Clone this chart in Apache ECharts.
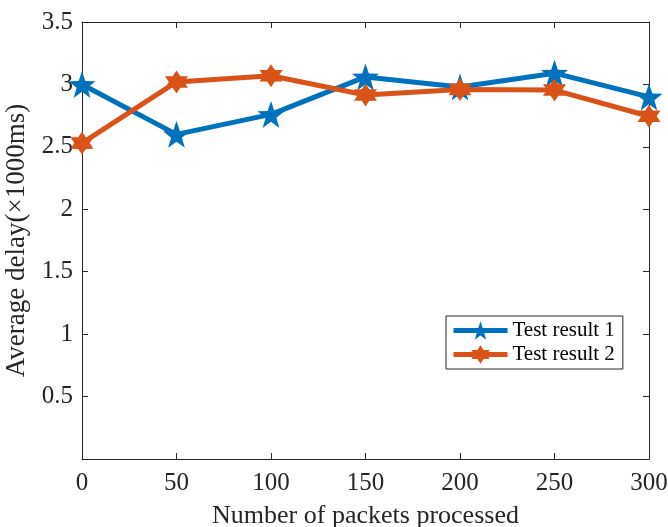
<!DOCTYPE html>
<html>
<head>
<meta charset="utf-8">
<script src="https://cdn.jsdelivr.net/npm/echarts@6/dist/echarts.min.js"></script>
<style>
  html, body { margin: 0; padding: 0; background: #fff; }
  #chart { width: 668px; height: 527px; }
</style>
</head>
<body>
<div id="chart"></div>
<script>
// 处理的数据包数量
const packets = [0, 50, 100, 150, 200, 250, 300]
// 平均时延 (×1000ms)
const result1 = [3.0, 2.6, 2.76, 3.06, 2.98, 3.09, 2.9]
const result2 = [2.53, 3.02, 3.07, 2.915, 2.96, 2.955, 2.745]
const seriesNames = ['Test result 1', 'Test result 2']

// star marker outline
function starPath(points, innerRatio) {
  const pts = []
  for (let i = 0; i < points * 2; i++) {
    const r = i % 2 === 0 ? 50 : 50 * innerRatio
    const a = -Math.PI / 2 + (i * Math.PI) / points
    pts.push((50 + r * Math.cos(a)).toFixed(2) + ',' + (50 + r * Math.sin(a)).toFixed(2))
  }
  return 'path://M' + pts.join('L') + 'Z'
}

const font = '"Liberation Serif", "Times New Roman", serif'
const textColor = '#262626'
const tick = { show: true, inside: true, length: 6, lineStyle: { color: textColor, width: 1 } }
const line = { show: true, onZero: false, lineStyle: { color: textColor, width: 1 } }

const myChart = echarts.init(document.getElementById('chart'))
const option = {
  animation: false,
  grid: {
    left: 82, right: 19, top: 22, bottom: 68,
    outerBoundsMode: 'none',
    containLabel: false
  },
  legend: {
    left: 446,
    top: 316,
    orient: 'vertical',
    backgroundColor: '#fff',
    borderColor: textColor,
    borderWidth: 1,
    borderRadius: 0,
    padding: [4, 8, 4, 5],
    itemGap: 3,
    itemWidth: 54,
    itemHeight: 23,
    lineStyle: { width: 5 },
    textStyle: { fontFamily: font, fontSize: 21, color: '#000' },
    data: seriesNames
  },
  xAxis: [
    {
      type: 'value',
      min: 0,
      max: 300,
      interval: 50,
      name: 'Number of packets processed',
      nameLocation: 'middle',
      nameGap: 44,
      nameTextStyle: { fontFamily: font, fontSize: 26, color: textColor },
      axisLine: line,
      axisTick: tick,
      axisLabel: { fontFamily: font, fontSize: 25, color: textColor, margin: 12 },
      splitLine: { show: false }
    },
    {
      type: 'value',
      position: 'top',
      min: 0,
      max: 300,
      interval: 50,
      axisLine: line,
      axisTick: tick,
      axisLabel: { show: false },
      splitLine: { show: false }
    }
  ],
  yAxis: [
    {
      type: 'value',
      min: 0,
      max: 3.5,
      interval: 0.5,
      name: 'Average delay(×1000ms)',
      nameLocation: 'middle',
      nameGap: 46,
      nameTextStyle: { fontFamily: font, fontSize: 27, color: textColor },
      axisLine: line,
      axisTick: tick,
      axisLabel: {
        fontFamily: font,
        fontSize: 25,
        color: textColor,
        margin: 9,
        formatter: (v) => (v === 0 ? '' : String(v))
      },
      splitLine: { show: false }
    },
    {
      type: 'value',
      position: 'right',
      min: 0,
      max: 3.5,
      interval: 0.5,
      axisLine: line,
      axisTick: tick,
      axisLabel: { show: false },
      splitLine: { show: false }
    }
  ],
  series: [
    {
      name: seriesNames[0],
      type: 'line',
      data: packets.map((x, i) => [x, result1[i]]),
      symbol: starPath(5, 0.4),
      symbolSize: 27,
      showAllSymbol: true,
      lineStyle: { width: 5, color: '#0072BD' },
      itemStyle: { color: '#0072BD' },
      z: 3
    },
    {
      name: seriesNames[1],
      type: 'line',
      data: packets.map((x, i) => [x, result2[i]]),
      symbol: starPath(6, 0.58),
      symbolSize: 23,
      showAllSymbol: true,
      lineStyle: { width: 5, color: '#D95319' },
      itemStyle: { color: '#D95319' },
      z: 4
    }
  ]
}
myChart.setOption(option)
</script>
</body>
</html>
